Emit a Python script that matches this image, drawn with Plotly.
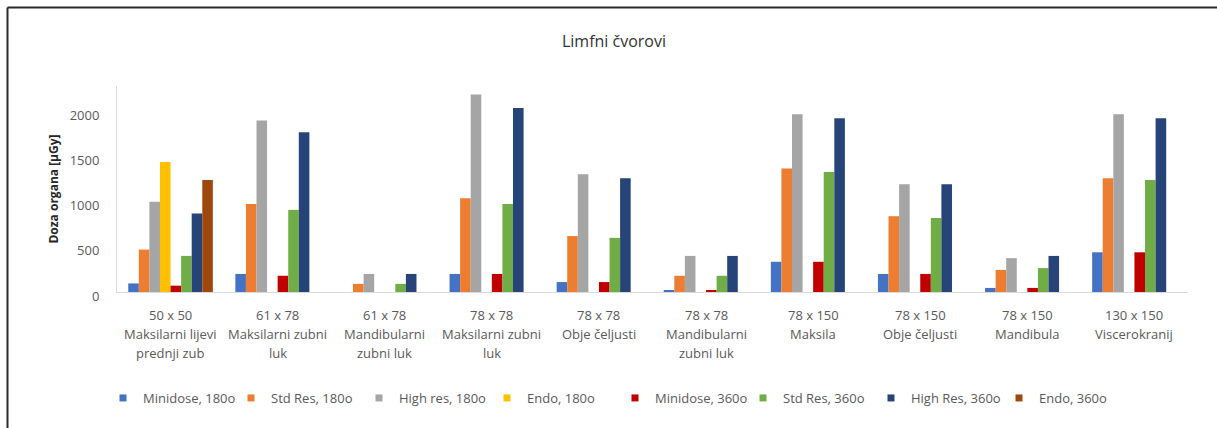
import plotly.graph_objects as go

# Field of view and scanned region for each exam
fov = ["50 x 50", "61 x 78", "61 x 78", "78 x 78", "78 x 78",
       "78 x 78", "78 x 150", "78 x 150", "78 x 150", "130 x 150"]
region_line1 = ["Maksilarni lijevi", "Maksilarni zubni", "Mandibularni", "Maksilarni zubni",
                "Obje čeljusti", "Mandibularni", "Maksila", "Obje čeljusti", "Mandibula",
                "Viscerokranij"]
region_line2 = ["prednji zub", "luk", "zubni luk", "luk", "", "zubni luk", "", "", "", ""]

# Organ dose (µGy) per protocol; None = protocol not used for that exam
minidose_180 = [95, 200, None, 200, 110, 20, 335, 200, 45, 440]
std_res_180 = [470, 975, 90, 1040, 620, 180, 1370, 840, 245, 1260]
high_res_180 = [1000, 1900, 200, 2190, 1305, 400, 1970, 1195, 375, 1970]
endo_180 = [1440, None, None, None, None, None, None, None, None, None]
minidose_360 = [70, 180, None, 200, 110, 20, 335, 200, 45, 440]
std_res_360 = [400, 910, 90, 975, 600, 180, 1330, 820, 265, 1240]
high_res_360 = [870, 1770, 200, 2040, 1260, 400, 1925, 1195, 400, 1925]
endo_360 = [1240, None, None, None, None, None, None, None, None, None]

series_names = ["Minidose, 180o", "Std Res, 180o", "High res, 180o", "Endo, 180o",
                "Minidose, 360o", "Std Res, 360o", "High Res, 360o", "Endo, 360o"]
series_values = [minidose_180, std_res_180, high_res_180, endo_180,
                 minidose_360, std_res_360, high_res_360, endo_360]
series_colors = ["#4472C4", "#ED7D31", "#A5A5A5", "#FFC000",
                 "#C00000", "#70AD47", "#264478", "#9E480E"]

categories = [f"{a}<br>{b}" for a, b in zip(fov, region_line1)]

FONT = "Open Sans, Noto Sans, sans-serif"
TXT = "#595959"

fig = go.Figure()
for name, vals, col in zip(series_names, series_values, series_colors):
    fig.add_trace(go.Bar(x=categories, y=vals, name=name, marker_color=col,
                         marker_line_width=0, legendgroup=name, showlegend=False))
    # small square swatch for the legend entry
    fig.add_trace(go.Scatter(x=[None], y=[None], mode="markers", name=name,
                             legendgroup=name,
                             marker=dict(symbol="square", size=7, color=col)))

# category labels below the axis (three lines each)
annotations = []
for cat, a, b, c in zip(categories, fov, region_line1, region_line2):
    for k, line in enumerate([a, b, c]):
        if not line:
            continue
        annotations.append(dict(x=cat, y=0, xref="x", yref="y", text=line,
                                showarrow=False, yanchor="middle", xanchor="center",
                                yshift=-(23 + 19 * k),
                                font=dict(family=FONT, size=13, color=TXT)))

# chart frame (left and top edges)
W, H = 1217, 428
L, R, T, B = 117, 29, 86, 136
pw, ph = W - L - R, H - T - B


def px(x):
    return (x - L) / pw


def py(y):
    return (H - B - y) / ph


shapes = [
    dict(type="line", xref="paper", yref="paper", x0=px(7.5), x1=px(W + 5),
         y0=py(7.5), y1=py(7.5), line=dict(color="#2b2b2b", width=2)),
    dict(type="line", xref="paper", yref="paper", x0=px(7.5), x1=px(7.5),
         y0=py(7.5), y1=py(H + 5), line=dict(color="#2b2b2b", width=2)),
]

fig.update_layout(
    width=W, height=H,
    margin=dict(l=L, r=R, t=T, b=B, autoexpand=False),
    paper_bgcolor="white", plot_bgcolor="white",
    barmode="group", bargap=0.21, bargroupgap=0,
    title=dict(text="Limfni čvorovi", x=(614) / W, xanchor="center",
               y=1 - 41 / H, yanchor="middle",
               font=dict(family=FONT, size=16, color="#333333")),
    font=dict(family=FONT, size=13, color=TXT),
    xaxis=dict(showticklabels=False, showline=True, linecolor="#D9D9D9", linewidth=1,
               showgrid=False, ticks="", zeroline=False),
    yaxis=dict(range=[0, 2283], tickvals=[0, 500, 1000, 1500, 2000],
               showline=True, linecolor="#D9D9D9", linewidth=1, showgrid=False,
               zeroline=False, ticks="", ticklabelstandoff=14, ticklabelshift=4,
               tickfont=dict(family=FONT, size=13, color=TXT),
               title=dict(text="<b>Doza organa [µGy]</b>", standoff=8,
                          font=dict(family=FONT, size=12, color="#262626"))),
    legend=dict(orientation="h", x=px(103), xanchor="left", y=py(398), yanchor="middle",
                entrywidth=83, entrywidthmode="pixels", itemclick=False,
                font=dict(family=FONT, size=13, color=TXT), bgcolor="rgba(0,0,0,0)"),
    annotations=annotations,
    shapes=shapes,
)

fig.write_html("out.html")
